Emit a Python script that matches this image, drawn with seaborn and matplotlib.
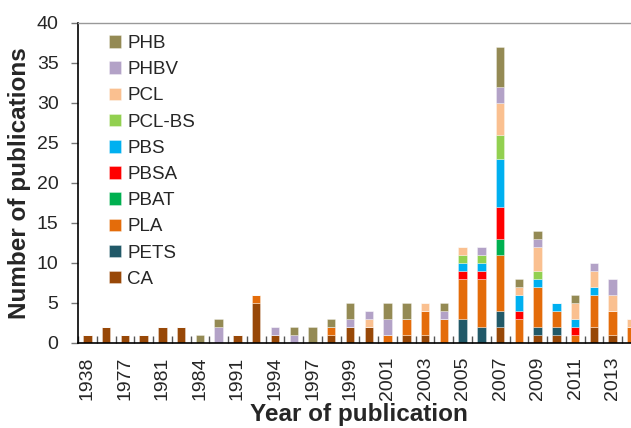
import matplotlib
matplotlib.use("Agg")
import matplotlib.pyplot as plt
import pandas as pd
import seaborn as sns

# Publication years (one bar each); only every other one gets a label
years = ["1938", "1975", "1977", "1979", "1981", "1983", "1984", "1990",
         "1991", "1993", "1994", "1995", "1997", "1998", "1999", "2000",
         "2001", "2002", "2003", "2004", "2005", "2006", "2007", "2008",
         "2009", "2010", "2011", "2012", "2013", "2014"]

# Publication counts per polymer and year
ca     = [1, 2, 1, 1, 2, 2, 0, 0, 1, 5, 1, 0, 0, 1, 2, 2, 0, 1, 1, 0, 0, 0, 2, 0, 1, 1, 0, 2, 1, 0]
pets   = [0, 0, 0, 0, 0, 0, 0, 0, 0, 0, 0, 0, 0, 0, 0, 0, 0, 0, 0, 0, 3, 2, 2, 0, 1, 1, 0, 0, 0, 0]
pla    = [0, 0, 0, 0, 0, 0, 0, 0, 0, 1, 0, 0, 0, 1, 0, 0, 1, 2, 3, 3, 5, 6, 7, 3, 5, 2, 1, 4, 3, 2]
pbat   = [0, 0, 0, 0, 0, 0, 0, 0, 0, 0, 0, 0, 0, 0, 0, 0, 0, 0, 0, 0, 0, 0, 2, 0, 0, 0, 0, 0, 0, 0]
pbsa   = [0, 0, 0, 0, 0, 0, 0, 0, 0, 0, 0, 0, 0, 0, 0, 0, 0, 0, 0, 0, 1, 1, 4, 1, 0, 0, 1, 0, 0, 0]
pbs    = [0, 0, 0, 0, 0, 0, 0, 0, 0, 0, 0, 0, 0, 0, 0, 0, 0, 0, 0, 0, 1, 1, 6, 2, 1, 1, 1, 1, 0, 0]
pcl_bs = [0, 0, 0, 0, 0, 0, 0, 0, 0, 0, 0, 0, 0, 0, 0, 0, 0, 0, 0, 0, 1, 1, 3, 0, 1, 0, 0, 0, 0, 0]
pcl    = [0, 0, 0, 0, 0, 0, 0, 0, 0, 0, 0, 0, 0, 0, 0, 1, 0, 0, 1, 0, 1, 0, 4, 1, 3, 0, 2, 2, 2, 1]
phbv   = [0, 0, 0, 0, 0, 0, 0, 2, 0, 0, 1, 1, 0, 0, 1, 1, 2, 0, 0, 1, 0, 1, 2, 0, 1, 0, 0, 1, 2, 0]
phb    = [0, 0, 0, 0, 0, 0, 1, 1, 0, 0, 0, 1, 2, 1, 2, 0, 2, 2, 0, 1, 0, 0, 5, 1, 1, 0, 1, 0, 0, 0]

series = ["PHB", "PHBV", "PCL", "PCL-BS", "PBS", "PBSA", "PBAT", "PLA", "PETS", "CA"]
values = [phb, phbv, pcl, pcl_bs, pbs, pbsa, pbat, pla, pets, ca]
colors = ["#948A54", "#B3A2C7", "#FAC090", "#92D050", "#00B0F0",
          "#FF0000", "#00B050", "#E46C0A", "#215968", "#984807"]

rows = []
for i, year in enumerate(years):
    for name, vals in zip(series, values):
        if vals[i] > 0:
            rows.append({"pos": i, "year": year, "polymer": name, "count": vals[i]})
df = pd.DataFrame(rows)

sns.set_style("white")
plt.rcParams["font.family"] = ["Liberation Sans", "DejaVu Sans"]

fig = plt.figure(figsize=(6.31, 4.28), dpi=100)
ax = fig.add_axes([0.1236, 0.1986, 0.892, 0.7488])

sns.histplot(data=df, x="pos", weights="count", hue="polymer",
             hue_order=series, palette=dict(zip(series, colors)),
             multiple="stack", discrete=True, shrink=0.45, alpha=1,
             edgecolor=(1, 1, 1, 0.45), linewidth=0.5, ax=ax)

ax.set_xlim(-0.5, len(years) - 0.5)
ax.set_ylim(0, 40)
ax.set_yticks(range(0, 41, 5))
ax.set_xticks(range(0, len(years), 2))
ax.set_xticklabels(years[::2], rotation=90, fontsize=14)
ax.set_xticks([i + 0.5 for i in range(-1, len(years))], minor=True)
ax.tick_params(axis="x", which="major", length=0, pad=10)
ax.tick_params(axis="x", which="minor", direction="in", length=5,
               width=1, color="#555555", bottom=True)
ax.tick_params(axis="y", which="major", direction="out", length=5,
               width=1, color="#777777", left=True, labelsize=14, pad=9)

ax.set_xlabel("Year of publication", fontsize=17.5, fontweight="bold", labelpad=2)
ax.set_ylabel("Number of publications", fontsize=17.5, fontweight="bold", labelpad=4)

for side in ("left", "bottom"):
    ax.spines[side].set_color("black")
    ax.spines[side].set_linewidth(1.2)
ax.spines["right"].set_visible(False)
ax.spines["top"].set_color("#999999")
ax.spines["top"].set_linewidth(1.0)

sns.move_legend(ax, "upper left", bbox_to_anchor=(0.172, 0.918),
                bbox_transform=fig.transFigure, frameon=False, title=None,
                fontsize=13.5, handlelength=0.65, handleheight=0.65,
                handletextpad=0.35, labelspacing=0.49, borderpad=0,
                borderaxespad=0)

fig.savefig("out.png", dpi=100)
